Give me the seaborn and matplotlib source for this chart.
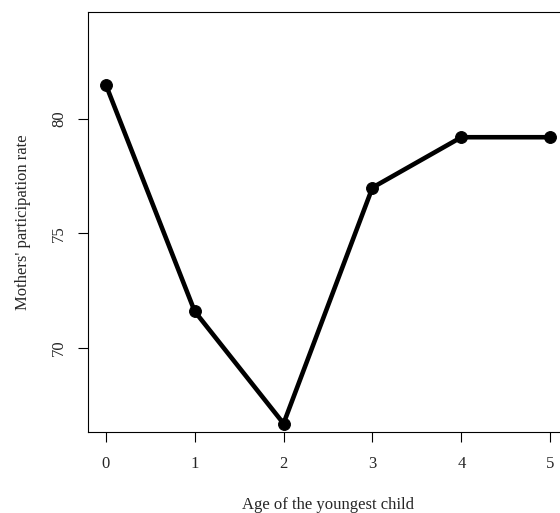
import pandas as pd
import seaborn as sns
import matplotlib.pyplot as plt

# data
ages = [0, 1, 2, 3, 4, 5]
rates = [81.5, 71.6, 66.7, 77.0, 79.2, 79.2]
y_ticks = [70, 75, 80]

df = pd.DataFrame({"age": ages, "rate": rates})

sns.set_style("ticks")
plt.rcParams['font.family'] = ['Liberation Serif', 'DejaVu Serif']

fig = plt.figure(figsize=(5.6, 5.13), dpi=100)
ax = fig.add_axes([88 / 560, 81 / 513, 480 / 560, 419.6 / 513])

sns.lineplot(data=df, x="age", y="rate", ax=ax, color="black",
             linewidth=3.3, marker="o", markersize=8.5,
             markeredgecolor="black", markerfacecolor="black")

ax.set_xlim(-0.2, 5.2)
ax.set_ylim(66.33, 84.65)
ax.set_xticks(ages)
ax.set_yticks(y_ticks)
ax.tick_params(axis='both', length=7.2, width=0.8, color='black',
               labelsize=12, pad=10)
ax.tick_params(axis='y', labelrotation=90, pad=8)
for lab in ax.get_yticklabels():
    lab.set_va('center')

for sp in ax.spines.values():
    sp.set_color('black')
    sp.set_linewidth(0.8)

ax.set_xlabel("Age of the youngest child", fontsize=12, labelpad=18)
ax.set_ylabel("Mothers' participation rate", fontsize=12, labelpad=14)

fig.savefig("out.png", dpi=100)
